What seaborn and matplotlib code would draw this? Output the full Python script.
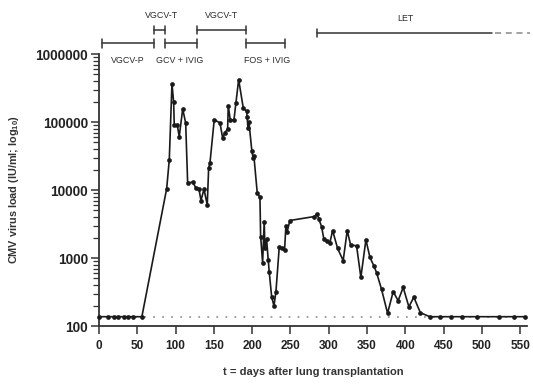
import numpy as np
import pandas as pd
import matplotlib
matplotlib.use('Agg')
import matplotlib.pyplot as plt
import matplotlib.ticker as mticker
import matplotlib.transforms as mtransforms
import seaborn as sns

# CMV load over time (days after lung transplantation, IU/ml)
days = [0, 12, 19, 25, 32, 38, 45, 56,
        88.4, 91.8, 95.3, 97.5, 98.3, 102.2, 104.8, 109.3, 113.2, 115.8,
        122.3, 126.6, 130.5, 133.2, 137.1, 141.4, 143.2, 144.9,
        150.5, 158, 161.5, 164.5, 168, 168.8, 171.4, 176.2, 178.8, 182.4,
        188.4, 192.8, 193.5, 194.5, 195.8, 199.7, 201.4, 202.3, 206.7, 210.2,
        211.1, 213.7, 215.8, 216.7, 218.9, 221, 222.3, 225.5, 228.5, 231.1,
        235.4, 238.9, 242.4, 244.1, 245.8, 249.3,
        281.1, 285, 287.2, 290.7, 293.7, 298, 301.6, 305.1, 311.6, 318.9,
        324.2, 328.6, 336.4, 342, 348.6, 353.8, 359, 362.5, 369, 376.9,
        384.2, 390.7, 397.3, 404.7, 411.2, 419.7,
        432, 446, 459.5, 473.5, 494, 522.6, 542, 556]
load = [137, 137, 137, 137, 137, 137, 137, 137,
        10500, 27900, 366000, 194000, 91000, 91000, 61000, 155000, 97000, 12600,
        13100, 10700, 10400, 7000, 10300, 6050, 21000, 24900,
        108000, 97000, 58000, 70000, 79000, 174000, 108000, 106000, 190000, 420000,
        161000, 143000, 120000, 81000, 100000, 37000, 29500, 31600, 9000, 7850,
        2070, 855, 3440, 1390, 1890, 940, 630, 270, 197, 320,
        1440, 1390, 1320, 2970, 2450, 3560,
        4070, 4460, 3720, 2900, 1890, 1790, 1690, 2530, 1390, 915,
        2530, 1560, 1510, 520, 1850, 1030, 765, 610, 347, 154,
        320, 236, 369, 192, 265, 157,
        137, 137, 137, 137, 137, 137, 137, 137]
lod = 137

# treatment periods: (label, start, end, row)
therapy_names = ['VGCV-P', 'VGCV-T', 'GCV + IVIG', 'VGCV-T', 'FOS + IVIG']
therapy_start = [3.5, 72, 86.5, 128, 192]
therapy_end = [72, 86.5, 128, 192, 243]
therapy_row = ['low', 'high', 'low', 'high', 'low']
therapy_label_x = [38, 81, 106, 160, 219]
let_start, let_solid_end, let_end = 284.6, 513, 563

df = pd.DataFrame({'day': days, 'load': load})

sns.set_style('ticks')
plt.rcParams['font.family'] = ['Liberation Sans', 'DejaVu Sans']
plt.rcParams['mathtext.fontset'] = 'custom'
plt.rcParams['mathtext.rm'] = 'Liberation Sans:bold'
plt.rcParams['mathtext.bf'] = 'Liberation Sans:bold'

fig = plt.figure(figsize=(5.33, 3.85), dpi=100)
ax = fig.add_axes([99 / 533, 59 / 385, 428 / 533, 272 / 385])

ax.axhline(lod, ls=(0, (1, 4)), color='#999999', lw=1.3, zorder=1)
sns.lineplot(data=df, x='day', y='load', estimator=None, sort=False,
             color='#1a1a1a', lw=1.2, marker='o', markersize=3.4,
             markeredgewidth=0, ax=ax, zorder=3, clip_on=False)

ax.set_yscale('log')
ax.set_xlim(0, 559)
ax.set_ylim(100, 1e6)
ax.set_xticks(np.arange(0, 551, 50))
ax.set_yticks([1e2, 1e3, 1e4, 1e5, 1e6])
ax.yaxis.set_major_formatter(mticker.FuncFormatter(lambda v, p: f'{int(round(v))}'))
ax.yaxis.set_minor_locator(mticker.LogLocator(base=10, subs=np.arange(2, 10)))
ax.yaxis.set_minor_formatter(mticker.NullFormatter())

for sp in ['top', 'right']:
    ax.spines[sp].set_visible(False)
for sp in ['left', 'bottom']:
    ax.spines[sp].set_color('#333333')
    ax.spines[sp].set_linewidth(1.3)
ax.tick_params(axis='both', which='major', length=6, width=1.1, color='#333333')
ax.tick_params(axis='y', which='minor', length=4, width=0.9, color='#333333')
ax.tick_params(axis='x', labelsize=8.5, pad=4)
ax.tick_params(axis='y', labelsize=9.8, pad=2)
for lab in ax.get_xticklabels() + ax.get_yticklabels():
    lab.set_fontweight('bold')
    lab.set_color('#222222')

ax.set_xlabel('t = days after lung transplantation', fontsize=8, fontweight='bold',
              color='#333333', labelpad=11)
ax.set_ylabel(r'CMV virus load (IU/ml; log$_{10}$)', fontsize=7.8, fontweight='bold',
              color='#333333', labelpad=10)

# treatment bars above the plot
trans = mtransforms.blended_transform_factory(ax.transData, ax.transAxes)
row_y = {'low': 1.039, 'high': 1.088}
cap = 0.016
bar_kw = dict(color='#333333', lw=1.1, transform=trans, clip_on=False)
for name, s, e, row, lx in zip(therapy_names, therapy_start, therapy_end,
                               therapy_row, therapy_label_x):
    yy = row_y[row]
    ax.plot([s, e], [yy, yy], **bar_kw)
    ax.plot([s, s], [yy - cap, yy + cap], **bar_kw)
    ax.plot([e, e], [yy - cap, yy + cap], **bar_kw)
    ty = 0.975 if row == 'low' else 1.143
    ax.text(lx, ty, name, transform=trans, ha='center', va='center',
            fontsize=6.4, color='#2a2a2a')

let_y = 1.077
ax.plot([let_start, let_solid_end], [let_y, let_y], **bar_kw)
ax.plot([let_start, let_start], [let_y - cap, let_y + cap], **bar_kw)
ax.plot([let_solid_end + 4, let_end], [let_y, let_y], ls=(0, (4, 3)),
        color='#888888', lw=1.1, transform=trans, clip_on=False)
ax.text(399.5, 1.132, 'LET', transform=trans, ha='center', va='center',
        fontsize=6.4, color='#2a2a2a')

fig.savefig('out.png', dpi=100)
